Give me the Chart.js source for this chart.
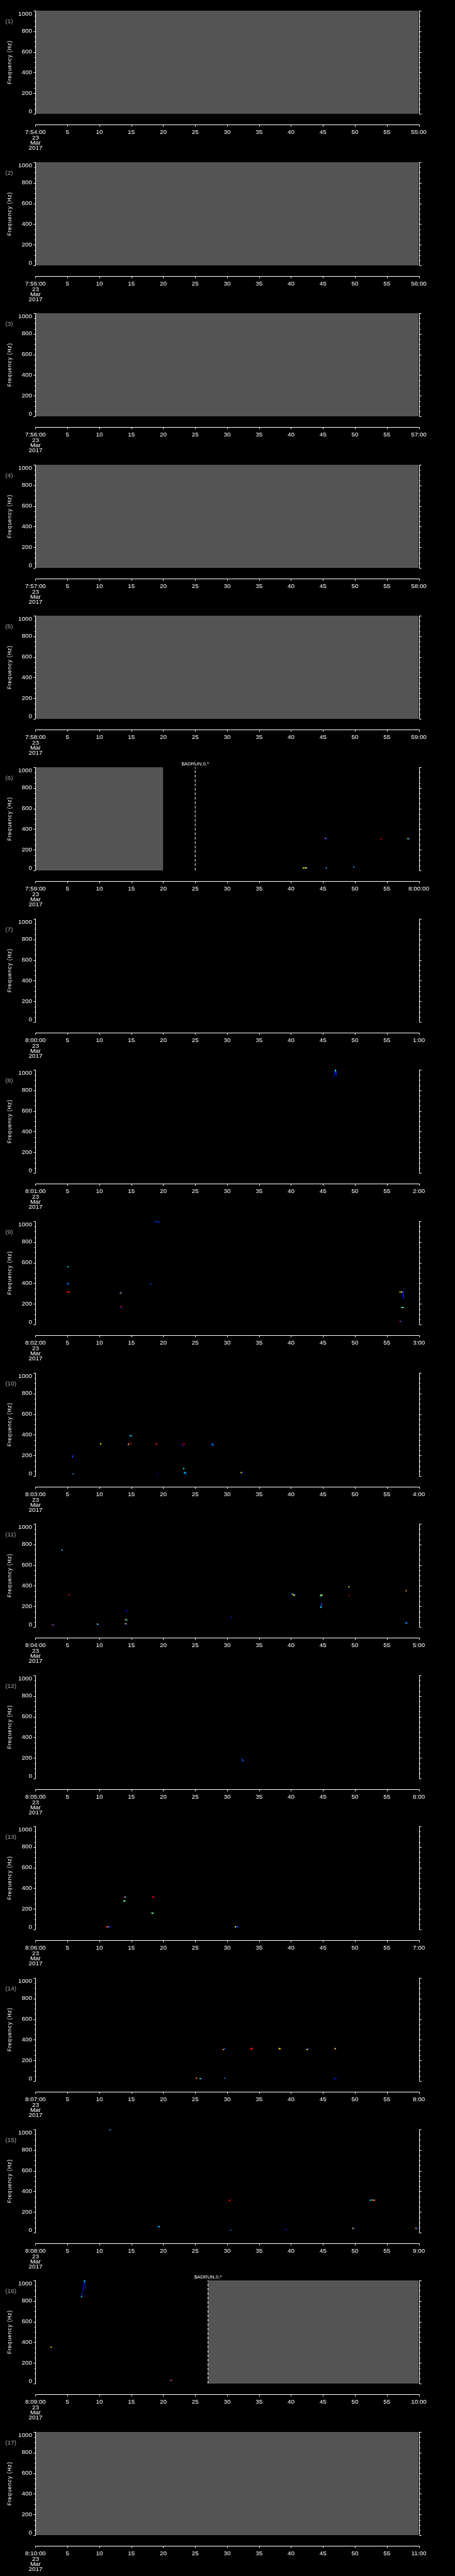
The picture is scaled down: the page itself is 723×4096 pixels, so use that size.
<!DOCTYPE html>
<html>
<head>
<meta charset="utf-8">
<script src="https://cdn.jsdelivr.net/npm/chart.js@4.4.1/dist/chart.umd.min.js"></script>
<style>
  html, body { margin: 0; padding: 0; background: #000; }
  #page { position: relative; width: 723px; height: 4096px; background: #000; overflow: hidden; }
  #page canvas { position: absolute; left: 0; }
</style>
</head>
<body>
<div id="page"></div>
<script>
// scale of the whole drawing against the 1024 px wide reference
const S = 0.705;

const panelNumbers = ['(1)', '(2)', '(3)', '(4)', '(5)', '(6)', '(7)', '(8)', '(9)', '(10)',
  '(11)', '(12)', '(13)', '(14)', '(15)', '(16)', '(17)'];
const startLabels = ['7:54:00', '7:55:00', '7:56:00', '7:57:00', '7:58:00', '7:59:00', '8:00:00',
  '8:01:00', '8:02:00', '8:03:00', '8:04:00', '8:05:00', '8:06:00', '8:07:00', '8:08:00', '8:09:00', '8:10:00'];
const endLabels = ['55:00', '56:00', '57:00', '58:00', '59:00', '8:00:00', '1:00', '2:00', '3:00',
  '4:00', '5:00', '6:00', '7:00', '8:00', '9:00', '10:00', '11:00'];
const xTicks = [0, 5, 10, 15, 20, 25, 30, 35, 40, 45, 50, 55, 60];
const midLabels = ['5', '10', '15', '20', '25', '30', '35', '40', '45', '50', '55'];
const dateLines = ['23', 'Mar', '2017'];
const yTicks = [0, 200, 400, 600, 800, 1000];
const yMinor = 50;

// no-data (grey) span per panel, seconds
const greyFrom = [0, 0, 0, 0, 0, 0, null, null, null, null, null, null, null, null, null, 27, 0];
const greyTo = [60, 60, 60, 60, 60, 20, null, null, null, null, null, null, null, null, null, 60, 60];
// dashed marker line per panel
const markerAt = [null, null, null, null, null, 25, null, null, null, null, null, null, null, null, null, 27, null];
const markerText = '$ADRUN,0,*';

// spectrogram pixels: [second, Hz, level 0..1]
const dots06 = [[45.3, 313, 0.86], [45.45, 312, 0.22], [45.45, 307, 0.2], [54.1, 305, 0.9],
  [58.3, 309, 0.65], [58.45, 305, 0.22], [41.95, 26, 0.63], [42.2, 26, 0.7], [42.4, 26, 0.5],
  [45.5, 26, 0.3], [49.8, 34, 0.28]];
const dots08 = [[46.95, 998, 0.6], [46.95, 990, 0.35]];
const dots09 = [[18.75, 999, 0.2], [18.95, 999, 0.18], [19.15, 998, 0.22], [19.3, 989, 0.15],
  [5.1, 559, 0.33], [5.05, 397, 0.32], [5.15, 393, 0.2], [18.1, 393, 0.18],
  [4.9, 314, 0.9], [5.1, 313, 0.97], [5.3, 315, 0.8], [13.3, 304, 0.72], [13.45, 312, 0.2],
  [13.35, 175, 0.88], [13.5, 163, 0.15], [57.05, 314, 0.7], [57.3, 315, 0.63], [57.5, 316, 0.2],
  [57.35, 166, 0.5], [57.55, 165, 0.33], [57.05, 30, 0.85], [57.15, 30, 0.2]];
const dots10 = [[14.8, 393, 0.32], [15.0, 391, 0.3], [10.2, 313, 0.63], [14.6, 313, 0.86],
  [14.9, 313, 0.86], [14.55, 307, 0.62], [14.5, 302, 0.2], [18.9, 313, 0.86], [18.95, 308, 0.9],
  [23.3, 313, 0.95], [22.95, 297, 0.1], [27.6, 313, 0.2], [27.75, 305, 0.22], [27.8, 300, 0.25],
  [5.85, 197, 0.15], [23.2, 73, 0.38], [23.3, 34, 0.34], [23.5, 30, 0.3], [23.55, 22, 0.2],
  [5.9, 21, 0.25], [19.1, 21, 0.08], [32.2, 34, 0.63], [32.4, 34, 0.15]];
const dots11 = [[4.15, 746, 0.33], [5.25, 313, 0.9], [2.65, 21, 0.85], [2.8, 21, 0.2],
  [9.7, 28, 0.55], [9.85, 26, 0.18], [14.25, 158, 0.15], [14.1, 73, 0.7], [14.3, 67, 0.33],
  [14.1, 33, 0.63], [14.3, 30, 0.15], [30.7, 96, 0.15], [40.2, 317, 0.35], [40.4, 314, 0.7],
  [40.5, 307, 0.62], [40.7, 313, 0.15], [44.7, 311, 0.5], [44.85, 309, 0.6], [44.6, 302, 0.35],
  [44.7, 195, 0.35], [44.65, 190, 0.3], [49.05, 390, 0.6], [49.1, 309, 0.95], [58.0, 351, 0.72],
  [58.0, 39, 0.33], [58.15, 40, 0.2]];
const dots12 = [[32.5, 172, 0.2]];
const dots13 = [[13.9, 314, 0.86], [14.05, 314, 0.35], [18.35, 314, 0.86], [18.5, 314, 0.88],
  [13.85, 276, 0.62], [14.0, 276, 0.35], [18.25, 160, 0.62], [18.4, 160, 0.35],
  [11.1, 27, 0.86], [11.3, 27, 0.75], [11.5, 27, 0.2], [11.75, 27, 0.15],
  [31.3, 27, 0.63], [31.5, 27, 0.2], [31.7, 27, 0.18]];
const dots14 = [[29.4, 306, 0.72], [29.6, 316, 0.2], [33.75, 316, 0.9], [33.95, 316, 0.86],
  [38.15, 314, 0.63], [38.3, 314, 0.7], [42.7, 316, 0.2], [42.5, 305, 0.63],
  [46.8, 314, 0.88], [46.95, 314, 0.5], [25.2, 28, 0.72], [25.8, 24, 0.5], [26.0, 24, 0.15],
  [29.65, 28, 0.22], [46.85, 26, 0.15], [47.0, 24, 0.1]];
const dots15 = [[11.6, 998, 0.33], [11.75, 998, 0.2], [19.35, 59, 0.35], [19.2, 59, 0.22],
  [30.45, 316, 0.95], [30.35, 310, 0.9], [30.55, 25, 0.22], [39.2, 29, 0.15],
  [49.7, 42, 0.63], [49.85, 42, 0.15], [52.4, 314, 0.35], [52.7, 316, 0.4], [52.9, 314, 0.8],
  [53.05, 314, 0.75], [59.55, 42, 0.72], [59.7, 42, 0.2]];
const dots16 = [[7.21, 843, 0.33], [7.66, 998, 0.35], [7.7, 990, 0.33], [2.45, 353, 0.68],
  [21.15, 31, 0.2], [21.3, 31, 0.85]];

// connected runs: [second, Hz, level]
const trace08 = [[46.7, 924, 0.15], [46.85, 970, 0.15], [46.95, 1000, 0.15], [47.04, 949, 0.15], [47.16, 941, 0.15]];
const trace09 = [[57.6, 315, 0.15], [57.6, 258, 0.15]];
const trace10a = [[5.8, 197, 0.2], [5.8, 176, 0.2]];
const trace10b = [[23.1, 313, 0.95], [23.1, 298, 0.95]];
const trace11 = [[44.75, 233, 0.2], [44.75, 205, 0.2]];
const trace12 = [[32.4, 195, 0.2], [32.4, 175, 0.2]];
const trace14 = [[33.75, 316, 0.88], [33.75, 301, 0.88]];
const trace16 = [[7.21, 843, 0.15], [7.3, 875, 0.15], [7.44, 879, 0.15], [7.57, 972, 0.15],
  [7.66, 1000, 0.15], [7.76, 975, 0.15], [7.89, 912, 0.15]];

const panelDots = [[], [], [], [], [], dots06, [], dots08, dots09, dots10, dots11, dots12, dots13, dots14, dots15, dots16, []];
const panelTraces = [[], [], [], [], [], [], [], [trace08], [trace09], [trace10a, trace10b], [trace11],
  [trace12], [], [trace14], [], [trace16], []];

const GREY = '#545454';
const FONT = '"Liberation Sans", Arial, sans-serif';
const W = 723;
const PANEL_H = 341.3 * S;
const CANVAS_H = 241;

function jet(v) {
  const stops = [[0, 0, 0, 140], [0.12, 0, 0, 255], [0.37, 0, 255, 255], [0.5, 128, 255, 128],
    [0.63, 255, 255, 0], [0.87, 255, 0, 0], [1, 140, 0, 0]];
  for (let i = 1; i < stops.length; i++) {
    if (v <= stops[i][0]) {
      const a = stops[i - 1], b = stops[i];
      const k = (v - a[0]) / (b[0] - a[0]);
      const c = [1, 2, 3].map(j => Math.round(a[j] + (b[j] - a[j]) * k));
      return `rgb(${c[0]},${c[1]},${c[2]})`;
    }
  }
  return 'rgb(140,0,0)';
}

const crisp = v => Math.round(v) + 0.5;

// axes are drawn here, off the chart area like the original plot
const axesPlugin = {
  id: 'idlAxes',
  afterDraw(chart) {
    const i = chart.options.plugins.idlAxes.panel;
    const { ctx, chartArea: a, scales: { x, y } } = chart;
    ctx.save();
    ctx.strokeStyle = '#fff';
    ctx.fillStyle = '#fff';
    ctx.lineWidth = 1;

    // left / right frame
    const xl = crisp(x.getPixelForValue(0)), xr = crisp(x.getPixelForValue(60));
    ctx.beginPath();
    ctx.moveTo(xl, a.top); ctx.lineTo(xl, a.bottom);
    ctx.moveTo(xr, a.top); ctx.lineTo(xr, a.bottom);
    for (let f = 0; f <= 1000; f += yMinor) {
      const py = crisp(y.getPixelForValue(f));
      const len = (f % 200 === 0 ? 4.5 : 2.4) * S;
      ctx.moveTo(xl, py); ctx.lineTo(xl - len, py);
      ctx.moveTo(xr, py); ctx.lineTo(xr + len, py);
    }
    ctx.stroke();

    ctx.font = `${14 * S}px ${FONT}`;
    ctx.textAlign = 'right';
    yTicks.forEach(f => {
      const py = y.getPixelForValue(f);
      ctx.textBaseline = f === 0 ? 'bottom' : (f === 1000 ? 'top' : 'middle');
      ctx.fillText(String(f), xl - 8 * S, py + (f === 0 ? 1 : 0));
    });

    // time axis, set below the plot
    const ay = crisp(a.bottom + 24 * S);
    ctx.beginPath();
    ctx.moveTo(xl, ay); ctx.lineTo(xr, ay);
    xTicks.forEach(t => {
      const px = crisp(x.getPixelForValue(t));
      ctx.moveTo(px, ay); ctx.lineTo(px, ay + 4 * S);
    });
    ctx.stroke();

    ctx.textAlign = 'center';
    ctx.textBaseline = 'middle';
    const labels = [startLabels[i], ...midLabels, endLabels[i]];
    xTicks.forEach((t, k) => {
      ctx.fillText(labels[k], x.getPixelForValue(t), a.bottom + 41 * S);
    });
    dateLines.forEach((txt, k) => {
      ctx.fillText(txt, x.getPixelForValue(0), a.bottom + (54 + k * 11.7) * S);
    });

    // axis title and panel number
    ctx.save();
    ctx.translate(22.5 * S, (a.top + a.bottom) / 2);
    ctx.rotate(-Math.PI / 2);
    ctx.font = `${12 * S}px ${FONT}`;
    if ('letterSpacing' in ctx) ctx.letterSpacing = `${1.2 * S}px`;
    ctx.fillText('Frequency (Hz)', 0, 0);
    ctx.restore();

    ctx.fillStyle = '#a8a8a8';
    ctx.font = `${14 * S}px ${FONT}`;
    ctx.textAlign = 'left';
    ctx.fillText(panelNumbers[i], 12 * S, a.top + 24 * S);

    if (markerAt[i] !== null) {
      ctx.fillStyle = '#fff';
      ctx.font = `${11 * S}px ${FONT}`;
      ctx.textAlign = 'center';
      ctx.textBaseline = 'alphabetic';
      ctx.fillText(markerText, x.getPixelForValue(markerAt[i]), a.top - 4 * S);
    }
    ctx.restore();
  }
};

const page = document.getElementById('page');

for (let i = 0; i < 17; i++) {
  const c = document.createElement('canvas');
  c.width = W;
  c.height = CANVAS_H;
  c.style.top = Math.round(i * PANEL_H) + 'px';
  page.appendChild(c);

  const datasets = [];
  if (greyFrom[i] !== null) {
    datasets.push({
      type: 'line', order: 4,
      data: [{ x: greyFrom[i], y: 1000 }, { x: greyTo[i], y: 1000 }],
      fill: 'origin', backgroundColor: GREY, borderWidth: 0, pointRadius: 0
    });
  }
  if (markerAt[i] !== null) {
    datasets.push({
      type: 'line', order: 3,
      data: [{ x: markerAt[i], y: 0 }, { x: markerAt[i], y: 1000 }],
      borderColor: '#fff', borderWidth: 1, borderDash: [6 * S, 4 * S], pointRadius: 0, fill: false
    });
  }
  panelTraces[i].forEach(tr => {
    datasets.push({
      type: 'line', order: 2,
      data: tr.map(p => ({ x: p[0], y: p[1] })),
      borderColor: jet(tr[0][2]), borderWidth: 1, pointRadius: 0, fill: false, tension: 0
    });
  });
  if (panelDots[i].length) {
    datasets.push({
      type: 'scatter', order: 1,
      data: panelDots[i].map(p => ({ x: p[0], y: p[1] })),
      pointStyle: 'rect', pointRadius: 1.4, pointBorderWidth: 0,
      pointBackgroundColor: panelDots[i].map(p => jet(p[2]))
    });
  }

  new Chart(c, {
    type: 'scatter',
    data: { datasets },
    options: {
      responsive: false,
      animation: false,
      devicePixelRatio: 1,
      events: [],
      layout: { padding: { left: 80 * S, right: W - 944 * S, top: 24 * S, bottom: CANVAS_H - 257 * S } },
      scales: {
        x: { type: 'linear', min: 0, max: 60, display: false },
        y: { type: 'linear', min: 0, max: 1000, display: false }
      },
      plugins: {
        legend: { display: false },
        tooltip: { enabled: false },
        idlAxes: { panel: i }
      }
    },
    plugins: [axesPlugin]
  });
}
</script>
</body>
</html>
